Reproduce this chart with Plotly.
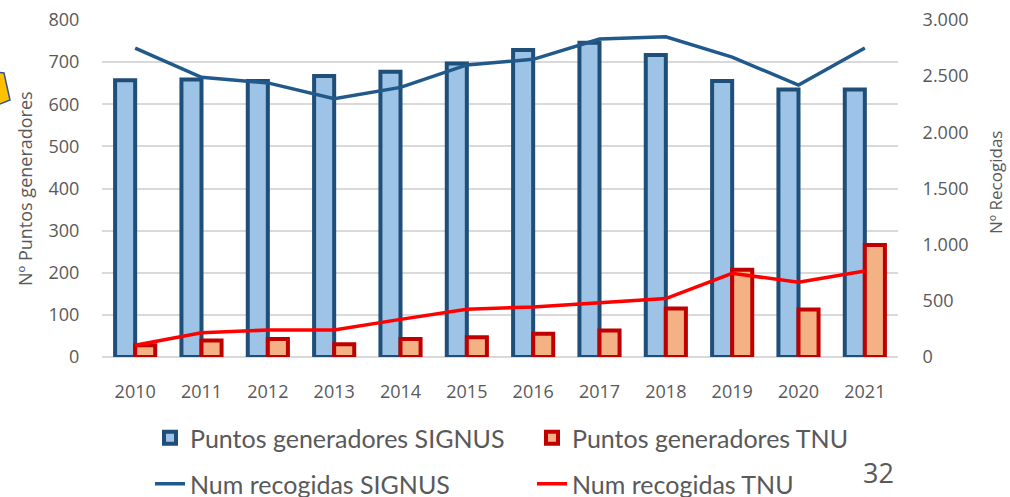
import plotly.graph_objects as go

years = ["2010", "2011", "2012", "2013", "2014", "2015", "2016", "2017", "2018", "2019", "2020", "2021"]
puntos_signus = [657, 659, 655, 667, 677, 697, 729, 746, 717, 655, 635, 635]
puntos_tnu = [28, 39, 43, 30, 43, 47, 55, 63, 115, 207, 113, 266]
recog_signus = [2750, 2490, 2440, 2300, 2400, 2600, 2650, 2830, 2850, 2670, 2420, 2750]
recog_tnu = [105, 215, 240, 240, 335, 425, 445, 485, 520, 745, 665, 765]

GRAY = "#595959"
TICKFONT = dict(family="Open Sans", size=18, color=GRAY)
LEGFONT = dict(family="Lato", size=25, color=GRAY)

W, H = 1010, 497
# plot area in pixels
L, R, T, B = 102, 898, 20, 357
def px(x):
    return (x - L) / (R - L)
def py(y):
    return (B - y) / (B - T)

fig = go.Figure()
fig.add_trace(go.Bar(x=years, y=puntos_signus, name="Puntos generadores SIGNUS",
                     marker=dict(color="#9DC3E6", line=dict(color="#1F4E79", width=4)),
                     legend="legend"))
fig.add_trace(go.Bar(x=years, y=puntos_tnu, name="Puntos generadores TNU",
                     marker=dict(color="#F4B183", line=dict(color="#C00000", width=4)),
                     legend="legend"))
fig.add_trace(go.Scatter(x=years, y=recog_signus, name="Num recogidas SIGNUS", mode="lines",
                         line=dict(color="#215A8A", width=3.5), yaxis="y2", legend="legend2"))
fig.add_trace(go.Scatter(x=years, y=recog_tnu, name="Num recogidas TNU", mode="lines",
                         line=dict(color="#FF0000", width=3.5), yaxis="y2", legend="legend2"))

fig.update_layout(
    width=W, height=H,
    margin=dict(l=L, r=W - R, t=T, b=H - B, autoexpand=False),
    paper_bgcolor="white", plot_bgcolor="white",
    barmode="group", bargap=0.395, bargroupgap=0,
    separators=",.",
    xaxis=dict(type="category", showgrid=False, showline=False, zeroline=False,
               tickfont=TICKFONT, ticks="outside", ticklen=18, tickcolor="rgba(0,0,0,0)"),
    yaxis=dict(range=[0, 800], dtick=100, showgrid=True, gridcolor="#D9D9D9", gridwidth=1.5,
               zeroline=True, zerolinecolor="#D9D9D9", zerolinewidth=1.5,
               tickfont=TICKFONT, ticks="outside", ticklen=18, tickcolor="rgba(0,0,0,0)"),
    yaxis2=dict(range=[0, 3000], dtick=500, overlaying="y", side="right", showgrid=False,
                zeroline=False, separatethousands=True, tickformat=",d",
                tickfont=TICKFONT, ticks="outside", ticklen=20, tickcolor="rgba(0,0,0,0)"),
    legend=dict(orientation="h", xref="container", x=150 / W, xanchor="left",
                yref="container", y=1 - 438 / H, yanchor="middle",
                entrywidth=337, entrywidthmode="pixels", font=LEGFONT, traceorder="normal",
                bgcolor="rgba(0,0,0,0)"),
    legend2=dict(orientation="h", xref="container", x=150 / W, xanchor="left",
                 yref="container", y=1 - 484 / H, yanchor="middle",
                 entrywidth=337, entrywidthmode="pixels", font=LEGFONT, traceorder="normal",
                 bgcolor="rgba(0,0,0,0)"),
    showlegend=True,
)

fig.add_annotation(text="Nº Puntos generadores", textangle=-90, x=px(25), y=py(189),
                   xref="paper", yref="paper", xanchor="center", yanchor="middle",
                   showarrow=False, font=dict(family="Open Sans", size=18, color=GRAY))
fig.add_annotation(text="Nº Recogidas", textangle=-90, x=px(995), y=py(183),
                   xref="paper", yref="paper", xanchor="center", yanchor="middle",
                   showarrow=False, font=dict(family="Open Sans", size=17, color=GRAY))
fig.add_annotation(text="32", x=px(878), y=py(472), xref="paper", yref="paper",
                   xanchor="center", yanchor="middle",
                   showarrow=False, font=dict(family="Open Sans", size=27, color=GRAY))

# partial yellow callout at the left edge
fig.add_shape(type="path", xref="paper", yref="paper",
              path=f"M {px(-5)},{py(72)} L {px(4)},{py(73)} L {px(10)},{py(100)} L {px(-5)},{py(106)} Z",
              fillcolor="#FFC000", line=dict(color="#2F5597", width=1.5))

fig.write_html("out.html", config={"displayModeBar": False},
               post_script="document.body.style.margin='0px';document.body.style.overflow='hidden';")
